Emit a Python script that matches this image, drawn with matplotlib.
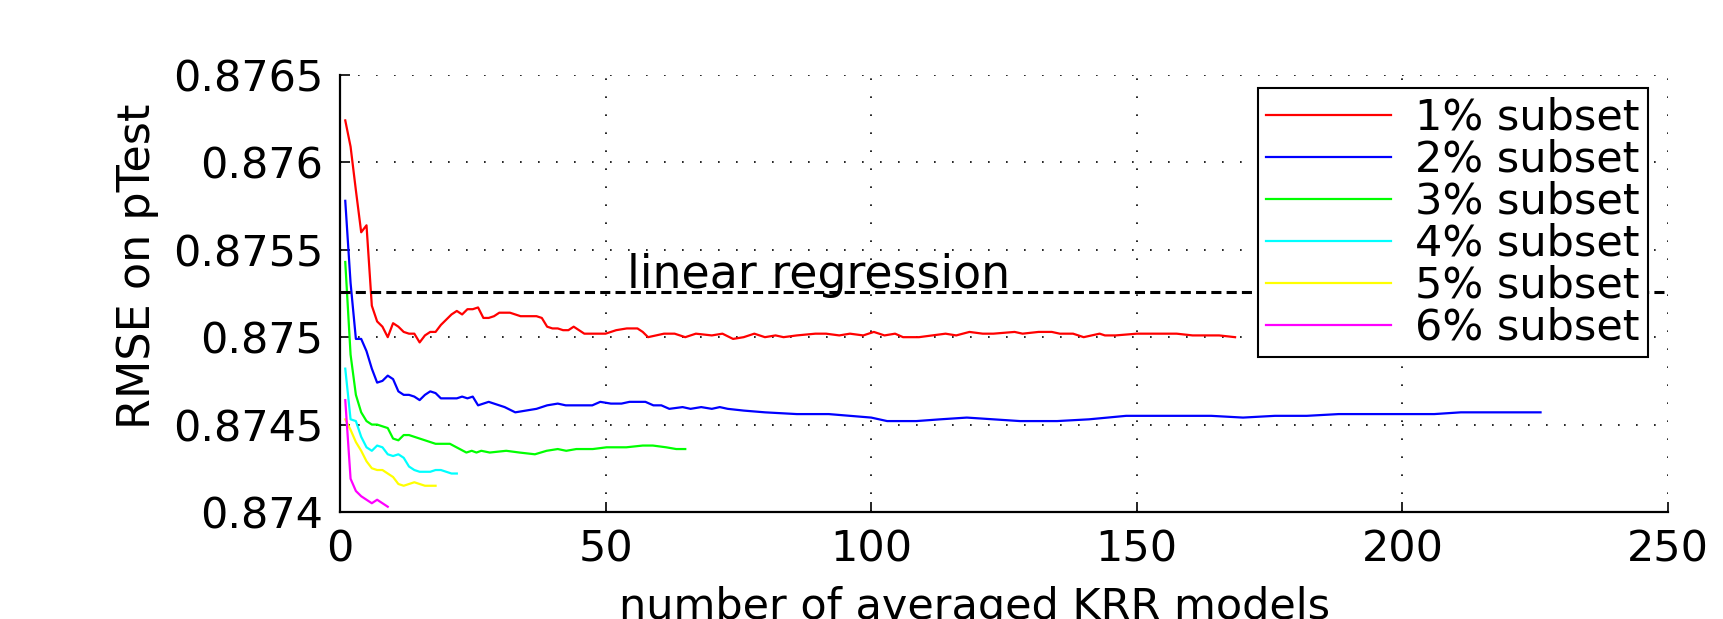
import numpy as np
import matplotlib

matplotlib.use("Agg")

import matplotlib.pyplot as plt

plt.rcParams["font.family"] = ["DejaVu Sans"]

# number of averaged models (x) and RMSE (y) for each subset size
x_1 = [1, 2, 3, 4, 5, 6, 7, 8, 9, 10, 11, 12, 13, 14, 15, 16, 17, 18, 19, 20,
       21, 22, 23, 24, 25, 26, 27, 28, 29, 30, 31, 32, 33, 34, 35, 36, 37, 38, 39, 40,
       41, 42, 43, 44, 45, 46, 47, 48, 50, 52, 54, 56, 57, 58, 61, 63, 65, 67, 70, 72,
       74, 76, 78, 80, 82, 83.5, 86, 89.5, 91.5, 94, 96, 98.5, 100.5, 102.5, 104.5, 106,
       109, 111.5, 114, 116, 118.5, 121, 123, 127, 128.5, 131.5, 134, 135.5, 138, 140,
       143, 144, 146, 150, 152.5, 155.5, 157.5, 160.5, 163, 165.5, 168.5]
rmse_1 = [0.87624, 0.87609, 0.87584, 0.87560, 0.87564, 0.87518, 0.87509, 0.87506, 0.87500, 0.87508,
          0.87506, 0.87503, 0.87502, 0.87502, 0.87497, 0.87501, 0.87503, 0.87503, 0.87507, 0.87510,
          0.87513, 0.87515, 0.87513, 0.87516, 0.87516, 0.87517, 0.87511, 0.87511, 0.87512, 0.87514,
          0.87514, 0.87514, 0.87513, 0.87512, 0.87512, 0.87512, 0.87512, 0.87511, 0.87506, 0.87505,
          0.87505, 0.87504, 0.87504, 0.87506, 0.87504, 0.87502, 0.87502, 0.87502, 0.87502, 0.87504,
          0.87505, 0.87505, 0.87503, 0.87500, 0.87502, 0.87502, 0.87500, 0.87502, 0.87501, 0.87502,
          0.87499, 0.87500, 0.87502, 0.87500, 0.87501, 0.87500, 0.87501, 0.87502, 0.87502, 0.87501,
          0.87502, 0.87501, 0.87503, 0.87501, 0.87502, 0.87500, 0.87500, 0.87501, 0.87502, 0.87501,
          0.87503, 0.87502, 0.87502, 0.87503, 0.87502, 0.87503, 0.87503, 0.87502, 0.87502, 0.87500,
          0.87502, 0.87501, 0.87501, 0.87502, 0.87502, 0.87502, 0.87502, 0.87501, 0.87501, 0.87501,
          0.87500]

x_2 = [1, 2, 3, 4, 5, 6, 7, 8, 9, 10, 11, 12, 13, 14, 15, 16, 17, 18, 19, 20,
       21, 22, 23, 24, 25, 26, 28, 30, 31, 33, 35, 37, 39, 41, 42.5, 44, 47.5, 49, 51, 53,
       54.5, 57.5, 59, 60.5, 62, 64.5, 66, 68, 70, 71.5, 73, 76, 80, 86, 92, 96, 100, 103,
       108.5, 113, 118, 123, 128, 135, 141, 148, 156, 164, 170, 176, 182, 188, 194, 200,
       206, 211, 215, 220, 226]
rmse_2 = [0.87578, 0.87531, 0.87499, 0.87499, 0.87492, 0.87482, 0.87474, 0.87475, 0.87478, 0.87476,
          0.87469, 0.87467, 0.87467, 0.87466, 0.87464, 0.87467, 0.87469, 0.87468, 0.87465, 0.87465,
          0.87465, 0.87465, 0.87466, 0.87465, 0.87466, 0.87461, 0.87463, 0.87461, 0.87460, 0.87457,
          0.87458, 0.87459, 0.87461, 0.87462, 0.87461, 0.87461, 0.87461, 0.87463, 0.87462, 0.87462,
          0.87463, 0.87463, 0.87461, 0.87461, 0.87459, 0.87460, 0.87459, 0.87460, 0.87459, 0.87460,
          0.87459, 0.87458, 0.87457, 0.87456, 0.87456, 0.87455, 0.87454, 0.87452, 0.87452, 0.87453,
          0.87454, 0.87453, 0.87452, 0.87452, 0.87453, 0.87455, 0.87455, 0.87455, 0.87454, 0.87455,
          0.87455, 0.87456, 0.87456, 0.87456, 0.87456, 0.87457, 0.87457, 0.87457, 0.87457]

x_3 = [1, 2, 3, 4, 5, 6, 7, 8, 9, 10, 11, 12, 13, 14, 15, 16, 17, 18, 19, 20.7,
       23.8, 24.8, 25.7, 26.6, 28.2, 31.3, 33.8, 36.7, 38.9, 41, 42.6, 44.5, 47.6, 50.2,
       53.9, 57, 58.9, 61.4, 63.3, 65]
rmse_3 = [0.87543, 0.87490, 0.87467, 0.87457, 0.87452, 0.87450, 0.87450, 0.87449, 0.87448, 0.87442,
          0.87441, 0.87444, 0.87444, 0.87443, 0.87442, 0.87441, 0.87440, 0.87439, 0.87439, 0.87439,
          0.87434, 0.87435, 0.87434, 0.87435, 0.87434, 0.87435, 0.87434, 0.87433, 0.87435, 0.87436,
          0.87435, 0.87436, 0.87436, 0.87437, 0.87437, 0.87438, 0.87438, 0.87437, 0.87436, 0.87436]

x_4 = list(range(1, 23))
rmse_4 = [0.87482, 0.87453, 0.87452, 0.87443, 0.87437, 0.87435, 0.87438, 0.87437, 0.87433, 0.87432,
          0.87433, 0.87431, 0.87426, 0.87424, 0.87423, 0.87423, 0.87423, 0.87424, 0.87424, 0.87423,
          0.87422, 0.87422]

x_5 = list(range(1, 19))
rmse_5 = [0.87453, 0.87447, 0.87440, 0.87435, 0.87429, 0.87425, 0.87424, 0.87424, 0.87422, 0.87420,
          0.87416, 0.87415, 0.87416, 0.87417, 0.87416, 0.87415, 0.87415, 0.87415]

x_6 = list(range(1, 10))
rmse_6 = [0.87464, 0.87419, 0.87412, 0.87409, 0.87407, 0.87405, 0.87407, 0.87405, 0.87403]

linreg_rmse = 0.87526

labels = ["1% subset", "2% subset", "3% subset", "4% subset", "5% subset", "6% subset"]
colors = ["#ff0000", "#0000ff", "#00ff00", "#00ffff", "#ffff00", "#ff00ff"]

x_ticks = [0, 50, 100, 150, 200, 250]
y_ticks = [0.874, 0.8745, 0.875, 0.8755, 0.876, 0.8765]
y_tick_labels = ["0.874", "0.8745", "0.875", "0.8755", "0.876", "0.8765"]

fig = plt.figure(figsize=(17.23, 6.19), dpi=100)
ax = fig.add_axes([0.1973, 0.1729, 0.7708, 0.7060])

series = [(x_1, rmse_1), (x_2, rmse_2), (x_3, rmse_3),
          (x_4, rmse_4), (x_5, rmse_5), (x_6, rmse_6)]
for (xs, ys), c, lab in zip(series, colors, labels):
    ax.plot(xs, ys, color=c, lw=1.6, label=lab)

ax.axhline(linreg_rmse, color="black", lw=2.2, ls=(0, (3.3, 1.7)))
ax.text(54, linreg_rmse + 0.00002, "linear regression", fontsize=33, va="baseline")

ax.set_xlim(0, 250)
ax.set_ylim(0.874, 0.8765)
ax.set_xticks(x_ticks)
ax.set_yticks(y_ticks)
ax.set_yticklabels(y_tick_labels)
ax.tick_params(direction="in", length=7, width=1.2, labelsize=31, pad=12)

ax.spines["top"].set_visible(False)
ax.spines["right"].set_visible(False)
ax.spines["left"].set_linewidth(1.6)
ax.spines["bottom"].set_linewidth(1.6)
ax.grid(True, color="black", ls=(0, (1, 9.8)), lw=1.2)

ax.set_xlabel("number of averaged KRR models", fontsize=31)
ax.xaxis.set_label_coords(0.478, -0.169)
ax.set_ylabel("RMSE on pTest", fontsize=32)
ax.yaxis.set_label_coords(-0.136, 0.563)

leg = ax.legend(loc="upper right", bbox_to_anchor=(0.985, 0.97), borderaxespad=0,
                fontsize=31, labelspacing=0.0, handlelength=2.9, handletextpad=0.55,
                borderpad=0.2, fancybox=False, framealpha=1, edgecolor="black")
leg.get_frame().set_linewidth(1.5)

fig.savefig("out.png", dpi=100)
